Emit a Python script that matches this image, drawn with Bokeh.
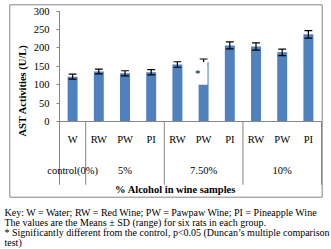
import math
from bokeh.plotting import figure
from bokeh.models import Range1d, LinearAxis, FixedTicker, ColumnDataSource
from bokeh.core.properties import value
from bokeh.embed import file_html
from bokeh.resources import INLINE

# ---- data ----
categories = ["W", "RW", "PW", "PI", "RW", "PW", "PI", "RW", "PW", "PI"]
groups = ["control(0%)", "5%", "7.50%", "10%"]
group_start = [0, 1, 4, 7]
group_end = [1, 4, 7, 10]
means = [122, 136, 131, 134, 155, 162, 207, 204, 188, 237]
sds = [7, 6.5, 7, 7, 7.5, 8, 9.5, 10, 9, 10]
y_ticks = [0, 50, 100, 150, 200, 250, 300]
y_title = "AST Activities (U/L)"
x_title = "% Alcohol in wine samples"
sig_index = 5
key_lines = [
    "Key: W = Water;  RW = Red Wine; PW = Pawpaw Wine; PI = Pineapple Wine",
    "The values are the Means \u00b1 SD (range)  for six rats in each  group.",
    "* Significantly different from the control, p<0.05 (Duncan\u2019s multiple comparison",
    "test)",
]

# ---- layout constants (pixels) ----
W, H = 331, 249
X0 = 59          # pixel of category axis start
CAT_PX = 26.2    # pixels per category
Y0 = 121         # pixel (from top) of value 0
VPX = 0.3677     # pixels per unit value
SERIF = "Liberation Serif"
GRAY = "#868686"
BLUE = "#4F81BD"


def xv(px):
    return (px - X0) / CAT_PX


def yv(py):
    return (Y0 - py) / VPX


p = figure(width=W, height=H, output_backend="svg", toolbar_location=None,
           x_range=Range1d(xv(0), xv(W)), y_range=Range1d(yv(H), yv(0)),
           x_axis_type=None, y_axis_type=None, min_border=0,
           background_fill_color="white", border_fill_color="white")
p.outline_line_color = None

n = len(categories)
xc = [i + 0.5 for i in range(n)]

# outer chart border
p.quad(left=[xv(9.3)], right=[xv(321.7)], top=[yv(4.3)], bottom=[yv(196.7)],
       fill_color=None, line_color=GRAY, line_width=1)

# bars
src = ColumnDataSource(dict(x=xc, top=means,
                            up=[m + s for m, s in zip(means, sds)],
                            lo=[m - s for m, s in zip(means, sds)]))
p.vbar(x="x", top="top", bottom=0, width=0.38, source=src,
       fill_color=BLUE, line_color=None)

# error bars
p.segment(x0="x", x1="x", y0="lo", y1="up", source=src, line_color="black", line_width=1.2)
cap = 0.15
p.segment(x0=[x - cap for x in xc], x1=[x + cap for x in xc], y0=src.data["up"],
          y1=src.data["up"], line_color="black", line_width=1.2)
p.segment(x0=[x - cap for x in xc], x1=[x + cap for x in xc], y0=src.data["lo"],
          y1=src.data["lo"], line_color="black", line_width=1.2)

# white label box with significance star
sx = xc[sig_index]
p.quad(left=[sx - 0.37], right=[sx + 0.15], bottom=[100], top=[means[sig_index]],
       fill_color="white", line_color=None)
p.text(x=[sx - 0.22], y=[132], text=["*"], text_font=value(SERIF),
       text_font_size="11px", text_align="center", text_baseline="middle",
       text_color="black")

# axis lines and category separators
sep_bottom = yv(184.3)
p.segment(x0=[0], x1=[n], y0=[0], y1=[0], line_color=GRAY, line_width=1)
p.segment(x0=[0], x1=[0], y0=[max(y_ticks)], y1=[0], line_color=GRAY, line_width=1)
seps = sorted(set(group_start + group_end))
p.segment(x0=seps, x1=seps, y0=[0] * len(seps), y1=[sep_bottom] * len(seps),
          line_color=GRAY, line_width=1)

# y axis (ticks + labels)
yax = LinearAxis(fixed_location=0, ticker=FixedTicker(ticks=y_ticks))
yax.axis_line_color = None
yax.major_tick_line_color = GRAY
yax.major_tick_out = 3
yax.major_tick_in = 0
yax.minor_tick_line_color = None
yax.major_label_text_font = SERIF
yax.major_label_text_font_size = "10.5px"
yax.major_label_text_color = "black"
yax.major_label_standoff = 7
p.add_layout(yax, "left")

# category labels
p.text(x=xc, y=[yv(139)] * n, text=categories, text_font=value(SERIF),
       text_font_size="10.5px", text_align="center", text_baseline="middle",
       text_color="black")
gc = [(a + b) / 2 for a, b in zip(group_start, group_end)]
p.text(x=gc, y=[yv(170)] * len(groups), text=groups, text_font=value(SERIF),
       text_font_size="10.5px", text_align="center", text_baseline="middle",
       text_color="black")

# axis titles
p.text(x=[xv(175)], y=[yv(189)], text=[x_title], text_font=value(SERIF),
       text_font_size="10.5px", text_font_style="bold", text_align="center",
       text_baseline="middle", text_color="black")
p.text(x=[xv(22)], y=[yv(90)], text=[y_title], text_font=value(SERIF),
       text_font_size="10.5px", text_font_style="bold", text_align="center",
       text_baseline="middle", text_color="black", angle=math.pi / 2)

# key
key_y = [212.3, 222.3, 232.3, 241.7]
p.text(x=[xv(4)] * len(key_lines), y=[yv(v) for v in key_y], text=key_lines,
       text_font=value(SERIF), text_font_size="10px", text_align="left",
       text_baseline="middle", text_color="black")

open("out.html", "w").write(file_html(p, INLINE))
